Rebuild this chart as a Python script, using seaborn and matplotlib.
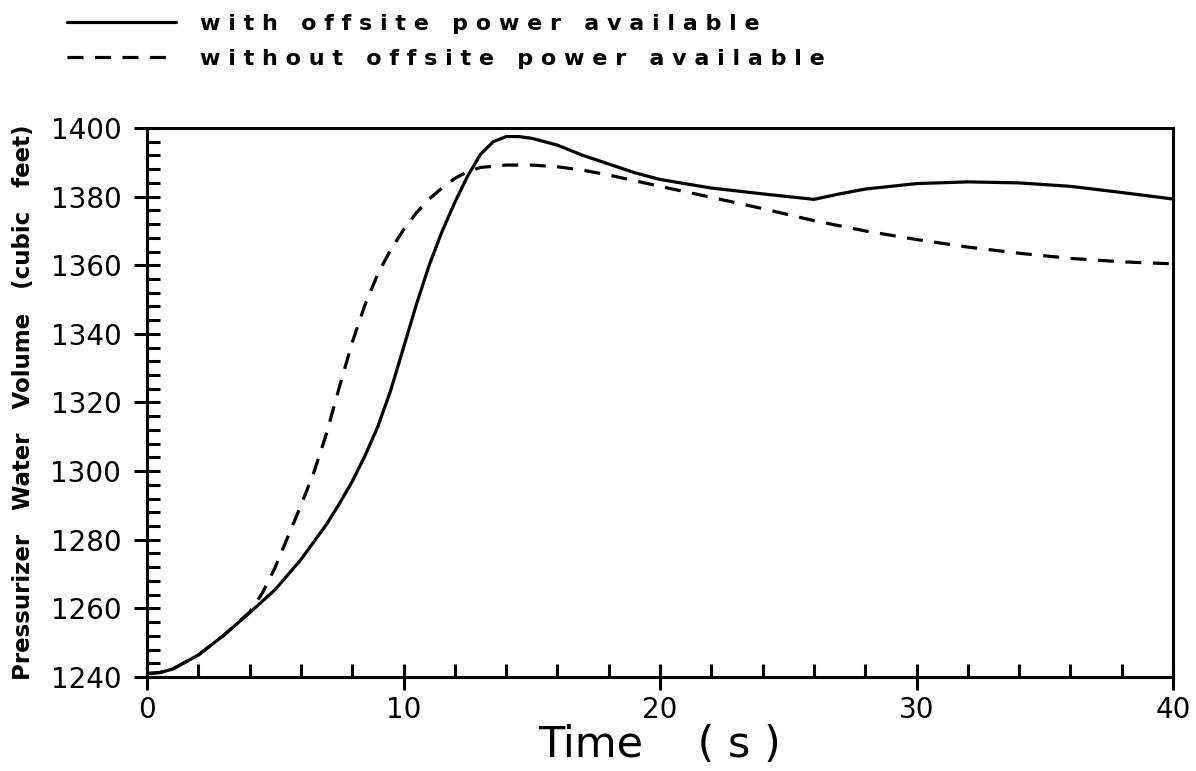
import numpy as np
import pandas as pd
import matplotlib
matplotlib.use("Agg")
import matplotlib.pyplot as plt
from matplotlib.ticker import MultipleLocator
import seaborn as sns

# Pressurizer water volume transient, two cases
t_with = [0, 0.5, 1, 2, 3, 4, 5, 6, 7, 7.5, 8, 8.5, 9, 9.5, 10, 10.5, 11,
          11.5, 12, 12.5, 13, 13.5, 14, 14.5, 15, 16, 17, 18, 19, 20, 22, 24,
          26, 27, 28, 30, 32, 34, 36, 38, 40]
v_with = [1241, 1241.3, 1242.3, 1246.4, 1252.2, 1258.7, 1265.5, 1274.2,
          1284.5, 1290.5, 1297, 1304.5, 1313, 1323.5, 1336, 1348.5, 1360,
          1369.8, 1378.3, 1386, 1392.3, 1396, 1397.5, 1397.5, 1397, 1395,
          1392, 1389.5, 1387, 1385, 1382.5, 1380.8, 1379.2, 1380.8, 1382.2,
          1383.8, 1384.3, 1384, 1383, 1381.2, 1379.3]

t_without = [0, 0.5, 1, 2, 3, 4, 4.5, 5, 5.5, 6, 6.5, 7, 7.5, 8, 8.5, 9, 9.5,
             10, 10.5, 11, 11.5, 12, 12.5, 13, 14, 15, 16, 17, 18, 20, 22, 24,
             26, 28, 30, 32, 34, 36, 38, 40]
v_without = [1241, 1241.3, 1242.3, 1246.4, 1252.2, 1258.9, 1264.5, 1272,
             1281, 1290, 1299.5, 1311, 1324.5, 1337.5, 1348.5, 1357.5, 1364.5,
             1370.3, 1375.3, 1379.3, 1382.5, 1385.3, 1387.3, 1388.5, 1389.2,
             1389.2, 1388.7, 1387.7, 1386.3, 1383, 1379.8, 1376.5, 1373, 1370,
             1367.5, 1365.3, 1363.5, 1362, 1361, 1360.4]

series_labels = ["with offsite power available",
                 "without offsite power available"]
x_label = "Time    ( s )"
y_label = "Pressurizer   Water   Volume   (cubic   feet)"
x_ticks = [0, 10, 20, 30, 40]
y_ticks = [1240, 1260, 1280, 1300, 1320, 1340, 1360, 1380, 1400]


def spaced(text):
    return " ".join(text)


sns.set_style("white")
plt.rcParams["font.family"] = ["DejaVu Sans"]

fig = plt.figure(figsize=(11.96, 7.71), dpi=100)
ax = fig.add_axes([147 / 1196, 1 - 677 / 771, (1173 - 147) / 1196,
                   (677 - 128) / 771])

lw = 2.3
sns.lineplot(x=t_with, y=v_with, ax=ax, color="black", linewidth=lw,
             label=spaced(series_labels[0]))
sns.lineplot(x=t_without, y=v_without, ax=ax, color="black", linewidth=lw,
             linestyle=(0, (5.0, 3.6)), label=spaced(series_labels[1]))

ax.set_xlim(0, 40)
ax.set_ylim(1240, 1400)
ax.set_xticks(x_ticks)
ax.set_yticks(y_ticks)
ax.xaxis.set_minor_locator(MultipleLocator(2))
ax.yaxis.set_minor_locator(MultipleLocator(4))

for side in ["left", "bottom", "top", "right"]:
    ax.spines[side].set_visible(True)
    ax.spines[side].set_color("black")
    ax.spines[side].set_linewidth(2.2)

ax.tick_params(axis="both", which="both", bottom=True, left=True,
               top=False, right=False)
ax.tick_params(axis="both", which="major", direction="inout", length=19,
               width=2.2, color="black", labelsize=20, labelcolor="black")
ax.tick_params(axis="both", which="minor", direction="in", length=9.5,
               width=2.2, color="black")
ax.tick_params(axis="y", which="major", pad=9)
ax.tick_params(axis="x", which="major", pad=4)

ax.set_xlabel(x_label, fontsize=31, color="black", labelpad=0)
ax.set_ylabel(y_label, fontsize=16.5, fontweight="bold", color="black",
              labelpad=11)

leg = ax.legend(loc="upper left", bbox_to_anchor=(56 / 1196, 1 - 3 / 771),
                bbox_transform=fig.transFigure, frameon=False, borderpad=0,
                handlelength=4.9, handletextpad=1.1, labelspacing=0.66,
                prop={"family": "DejaVu Sans", "weight": "bold", "size": 16})
for txt in leg.get_texts():
    txt.set_color("black")

fig.savefig("out.png", dpi=100, facecolor="white")
